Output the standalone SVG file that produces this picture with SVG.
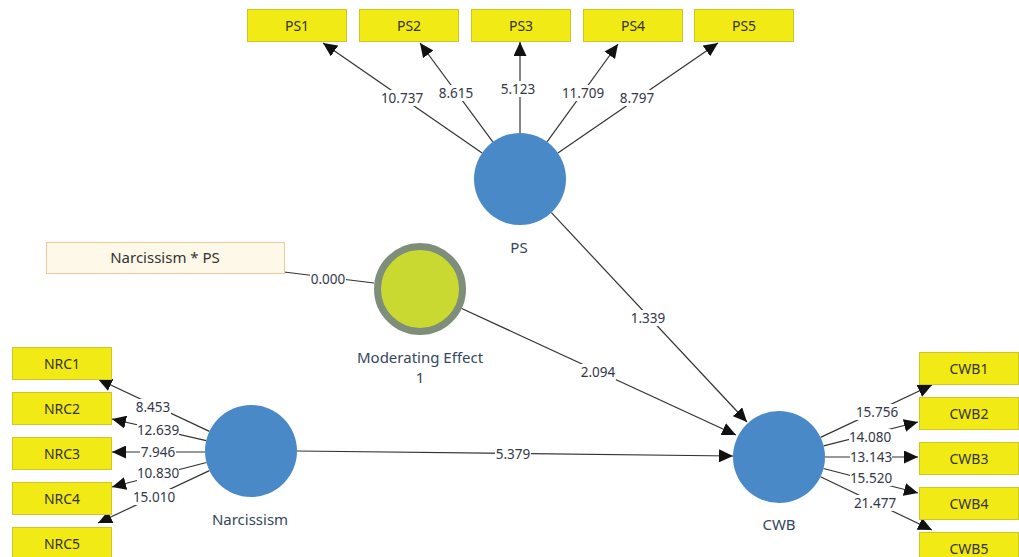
<svg xmlns="http://www.w3.org/2000/svg" width="1019" height="557" viewBox="0 0 1019 557">
<style>
.ind{fill:#F2EA14;stroke:#CFC72A;stroke-width:1}
.ind-t{font-family:"Noto Sans","Open Sans",sans-serif;font-size:14px;fill:#333;text-anchor:middle}
.lv{fill:#4A89C7}
.lv-t{font-family:"Noto Sans","Open Sans",sans-serif;font-size:15px;fill:#34465E;text-anchor:middle}
.c{stroke:#333;stroke-width:1.2;fill:none;marker-end:url(#ah)}
.cn{stroke:#333;stroke-width:1.2;fill:none}
.lb{fill:#fff}
.lt{font-family:"Noto Sans","Open Sans",sans-serif;font-size:13.5px;fill:#33374A;text-anchor:middle}
</style>
<defs>
<marker id="ah" markerUnits="userSpaceOnUse" markerWidth="15" markerHeight="13" viewBox="0 0 15 13" refX="14" refY="6.5" orient="auto">
<path d="M0,0 L14,6.5 L0,13 Z" fill="#111"/>
</marker>
</defs>
<rect width="1019" height="557" fill="#fff"/>

<g id="connectors">
<line class="c" x1="482.1" y1="152.9" x2="323" y2="43"/>
<line class="c" x1="492.8" y1="141.9" x2="420" y2="43"/>
<line class="c" x1="520" y1="133" x2="520" y2="42"/>
<line class="c" x1="547" y1="141.8" x2="618" y2="44"/>
<line class="c" x1="557.9" y1="153" x2="718" y2="43"/>
<line class="c" x1="209.4" y1="431.4" x2="98" y2="379"/>
<line class="c" x1="206.2" y1="440.7" x2="112" y2="419"/>
<line class="c" x1="205" y1="452" x2="112" y2="452"/>
<line class="c" x1="206.5" y1="462.5" x2="112" y2="487"/>
<line class="c" x1="209.4" y1="470.6" x2="98" y2="523"/>
<line class="c" x1="820.6" y1="437.4" x2="932" y2="385"/>
<line class="c" x1="823.6" y1="445.8" x2="918" y2="422"/>
<line class="c" x1="825" y1="457" x2="918" y2="457"/>
<line class="c" x1="823.5" y1="468.5" x2="918" y2="493"/>
<line class="c" x1="820.5" y1="476.8" x2="932" y2="530"/>
<line class="c" x1="551.4" y1="212.6" x2="747" y2="422"/>
<line class="c" x1="461.7" y1="308.5" x2="736" y2="435"/>
<line class="c" x1="297" y1="451" x2="733" y2="456"/>
<line class="cn" x1="284" y1="272" x2="374" y2="283"/>

<g id="labels">
<rect class="lb" x="381" y="90" width="42" height="16"/><text class="lt" x="402" y="103">10.737</text>
<rect class="lb" x="438" y="85" width="36" height="16"/><text class="lt" x="456" y="98">8.615</text>
<rect class="lb" x="500" y="81" width="36" height="16"/><text class="lt" x="518" y="94">5.123</text>
<rect class="lb" x="562" y="85" width="42" height="16"/><text class="lt" x="583" y="98">11.709</text>
<rect class="lb" x="619" y="90" width="36" height="16"/><text class="lt" x="637" y="103">8.797</text>
<rect class="lb" x="135" y="399" width="36" height="16"/><text class="lt" x="153" y="412">8.453</text>
<rect class="lb" x="137" y="422" width="42" height="16"/><text class="lt" x="158" y="435">12.639</text>
<rect class="lb" x="140" y="444" width="36" height="16"/><text class="lt" x="158" y="457">7.946</text>
<rect class="lb" x="137" y="465" width="42" height="16"/><text class="lt" x="158" y="478">10.830</text>
<rect class="lb" x="133" y="489" width="42" height="16"/><text class="lt" x="154" y="502">15.010</text>
<rect class="lb" x="856" y="404" width="42" height="16"/><text class="lt" x="877" y="417">15.756</text>
<rect class="lb" x="849" y="429" width="42" height="16"/><text class="lt" x="870" y="442">14.080</text>
<rect class="lb" x="850" y="449" width="42" height="16"/><text class="lt" x="871" y="462">13.143</text>
<rect class="lb" x="850" y="470" width="42" height="16"/><text class="lt" x="871" y="483">15.520</text>
<rect class="lb" x="854" y="495" width="42" height="16"/><text class="lt" x="875" y="508">21.477</text>
<rect class="lb" x="630" y="310" width="36" height="16"/><text class="lt" x="648" y="323">1.339</text>
<rect class="lb" x="580" y="364" width="36" height="16"/><text class="lt" x="598" y="377">2.094</text>
<rect class="lb" x="495" y="446" width="36" height="16"/><text class="lt" x="513" y="459">5.379</text>
<rect class="lb" x="310" y="271" width="36" height="16"/><text class="lt" x="328" y="284">0.000</text>
</g>
</g>

<g id="PS1"><rect class="ind" x="247.5" y="9.5" width="99" height="32"/><text class="ind-t" x="297" y="30.5">PS1</text></g>
<g id="PS2"><rect class="ind" x="359.5" y="9.5" width="99" height="32"/><text class="ind-t" x="409" y="30.5">PS2</text></g>
<g id="PS3"><rect class="ind" x="471.5" y="9.5" width="99" height="32"/><text class="ind-t" x="521" y="30.5">PS3</text></g>
<g id="PS4"><rect class="ind" x="583.5" y="9.5" width="99" height="32"/><text class="ind-t" x="633" y="30.5">PS4</text></g>
<g id="PS5"><rect class="ind" x="694.5" y="9.5" width="99" height="32"/><text class="ind-t" x="744" y="30.5">PS5</text></g>

<g id="NRC1"><rect class="ind" x="12.5" y="347.5" width="99" height="32"/><text class="ind-t" x="62" y="368.5">NRC1</text></g>
<g id="NRC2"><rect class="ind" x="12.5" y="392.5" width="99" height="32"/><text class="ind-t" x="62" y="413.5">NRC2</text></g>
<g id="NRC3"><rect class="ind" x="12.5" y="437.5" width="99" height="32"/><text class="ind-t" x="62" y="458.5">NRC3</text></g>
<g id="NRC4"><rect class="ind" x="12.5" y="482.5" width="99" height="32"/><text class="ind-t" x="62" y="503.5">NRC4</text></g>
<g id="NRC5"><rect class="ind" x="12.5" y="527.5" width="99" height="32"/><text class="ind-t" x="62" y="548.5">NRC5</text></g>

<g id="CWB1"><rect class="ind" x="919.5" y="352.5" width="99" height="32"/><text class="ind-t" x="969" y="373.5">CWB1</text></g>
<g id="CWB2"><rect class="ind" x="919.5" y="397.5" width="99" height="32"/><text class="ind-t" x="969" y="418.5">CWB2</text></g>
<g id="CWB3"><rect class="ind" x="919.5" y="442.5" width="99" height="32"/><text class="ind-t" x="969" y="463.5">CWB3</text></g>
<g id="CWB4"><rect class="ind" x="919.5" y="487.5" width="99" height="32"/><text class="ind-t" x="969" y="508.5">CWB4</text></g>
<g id="CWB5"><rect class="ind" x="919.5" y="532.5" width="99" height="32"/><text class="ind-t" x="969" y="553.5">CWB5</text></g>

<g id="NarcissismPS"><rect x="46.5" y="242.5" width="238" height="31" fill="#FDF8E8" stroke="#F0C89C" stroke-width="1"/><text class="ind-t" x="165" y="263" style="font-size:15px">Narcissism * PS</text></g>

<g id="PS"><circle class="lv" cx="520" cy="179" r="46"/><text class="lv-t" x="519" y="253">PS</text></g>
<g id="ModeratingEffect1"><circle cx="420" cy="289" r="42.5" fill="#C9D932" stroke="#7F8E7B" stroke-width="7"/><text class="lv-t" x="420" y="363">Moderating Effect</text><text class="lv-t" x="420" y="383">1</text></g>
<g id="Narcissism"><circle class="lv" cx="251" cy="451" r="46"/><text class="lv-t" x="250" y="525">Narcissism</text></g>
<g id="CWB"><circle class="lv" cx="779" cy="457" r="46"/><text class="lv-t" x="779" y="530">CWB</text></g>
</svg>
